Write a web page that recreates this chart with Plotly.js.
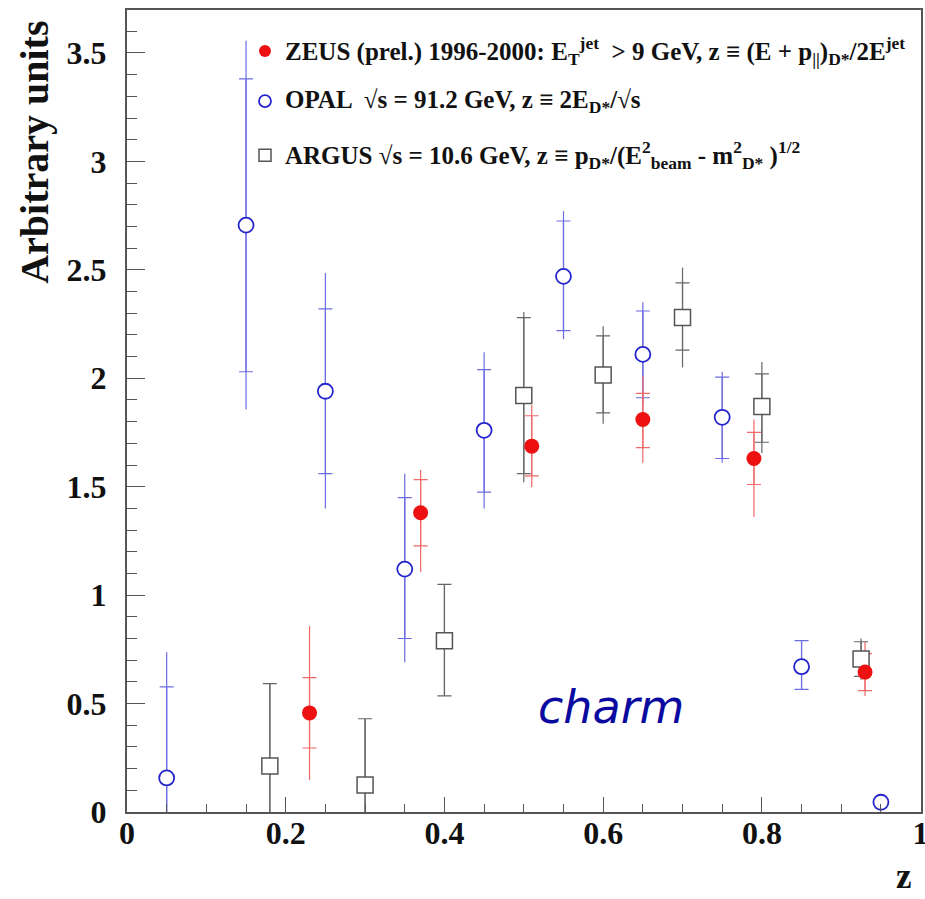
<!DOCTYPE html>
<html>
<head>
<meta charset="utf-8">
<script src="https://cdn.plot.ly/plotly-3.0.1.min.js"></script>
<style>
  html, body { margin: 0; padding: 0; background: #fff; }
  #chart { width: 925px; height: 899px; }
</style>
</head>
<body>
<div id="chart"></div>
<script>
// D* fragmentation function in charm: ZEUS, OPAL and ARGUS measurements

// ZEUS (prel.) 1996-2000
const zeusZ        = [0.23, 0.37, 0.51, 0.65, 0.79, 0.93];
const zeusY        = [0.457, 1.38, 1.687, 1.81, 1.63, 0.645];
const zeusStatUp   = [0.163, 0.153, 0.14, 0.12, 0.12, 0.085];
const zeusStatDown = [0.162, 0.153, 0.137, 0.13, 0.12, 0.085];
const zeusTotUp    = [0.40, 0.197, 0.19, 0.20, 0.18, 0.14];
const zeusTotDown  = [0.31, 0.273, 0.19, 0.20, 0.27, 0.11];

// OPAL, sqrt(s) = 91.2 GeV
const opalZ        = [0.05, 0.15, 0.25, 0.35, 0.45, 0.55, 0.65, 0.75, 0.85, 0.95];
const opalY        = [0.157, 2.706, 1.94, 1.12, 1.76, 2.47, 2.11, 1.82, 0.67, 0.045];
const opalStatUp   = [0.42, 0.674, 0.38, 0.33, 0.28, 0.255, 0.20, 0.185, 0.12, 0.0];
const opalStatDown = [0.42, 0.676, 0.38, 0.32, 0.285, 0.25, 0.20, 0.19, 0.105, 0.0];
const opalTotUp    = [0.58, 0.85, 0.545, 0.44, 0.36, 0.30, 0.24, 0.21, 0.12, 0.0];
const opalTotDown  = [0.58, 0.85, 0.54, 0.43, 0.36, 0.29, 0.24, 0.21, 0.105, 0.0];

// ARGUS, sqrt(s) = 10.6 GeV
const argusZ        = [0.18, 0.30, 0.40, 0.50, 0.60, 0.70, 0.80, 0.925];
const argusY        = [0.212, 0.125, 0.79, 1.92, 2.015, 2.28, 1.87, 0.705];
const argusStatUp   = [0.38, 0.305, 0.26, 0.36, 0.18, 0.16, 0.15, 0.08];
const argusStatDown = [0.38, 0.305, 0.255, 0.36, 0.175, 0.15, 0.165, 0.08];
const argusTotUp    = [0.38, 0.305, 0.26, 0.385, 0.225, 0.23, 0.205, 0.095];
const argusTotDown  = [0.38, 0.305, 0.255, 0.40, 0.225, 0.23, 0.215, 0.095];

// axis ticks
const xTicks = [0, 0.2, 0.4, 0.6, 0.8, 1];
const xTickText = ['0', '0.2', '0.4', '0.6', '0.8', '1'];
const yTicks = [0, 0.5, 1, 1.5, 2, 2.5, 3, 3.5];
const yTickText = ['0', '0.5', '1', '1.5', '2', '2.5', '3', '3.5'];

const legendLines = [
  'ZEUS (prel.) 1996-2000: E<sub>T</sub><sup>jet</sup>  &gt; 9 GeV, z ≡ (E + p<sub>||</sub>)<sub>D*</sub>/2E<sup>jet</sup>',
  'OPAL  √s = 91.2 GeV, z ≡ 2E<sub>D*</sub>/√s',
  'ARGUS √s = 10.6 GeV, z ≡ p<sub>D*</sub>/(E<sup>2</sup><sub>beam</sub> - m<sup>2</sup><sub>D*</sub> )<sup>1/2</sup>'
];

const COL = {
  zeus: '#ee1111', zeusBar: '#f06868',
  opal: '#2424cc', opalBar: '#6c6ce4',
  argus: '#555555', argusBar: '#666666'
};

const hidden = { size: 1, color: 'rgba(0,0,0,0)' };

// error bar trace: total range without caps, statistical range with caps
function errTrace(x, y, up, down, color, cap) {
  return {
    type: 'scatter', mode: 'markers', x: x, y: y, marker: hidden,
    hoverinfo: 'skip', showlegend: false,
    error_y: { type: 'data', symmetric: false, array: up, arrayminus: down,
               color: color, thickness: 1.2, width: cap }
  };
}

const traces = [
  errTrace(argusZ, argusY, argusTotUp, argusTotDown, COL.argusBar, 0),
  errTrace(argusZ, argusY, argusStatUp, argusStatDown, COL.argusBar, 7),
  errTrace(opalZ, opalY, opalTotUp, opalTotDown, COL.opalBar, 0),
  errTrace(opalZ, opalY, opalStatUp, opalStatDown, COL.opalBar, 7),
  errTrace(zeusZ, zeusY, zeusTotUp, zeusTotDown, COL.zeusBar, 0),
  errTrace(zeusZ, zeusY, zeusStatUp, zeusStatDown, COL.zeusBar, 7),
  { type: 'scatter', mode: 'markers', name: 'ARGUS', x: argusZ, y: argusY, showlegend: false,
    marker: { symbol: 'square', size: 16, color: '#ffffff', line: { color: COL.argus, width: 1.5 } } },
  { type: 'scatter', mode: 'markers', name: 'OPAL', x: opalZ, y: opalY, showlegend: false,
    marker: { symbol: 'circle', size: 15, color: '#ffffff', line: { color: COL.opal, width: 1.8 } } },
  { type: 'scatter', mode: 'markers', name: 'ZEUS', x: zeusZ, y: zeusY, showlegend: false,
    marker: { symbol: 'circle', size: 15, color: COL.zeus, line: { width: 0 } } }
];

// legend drawn as text rows with matching symbols
const legY = [0.949, 0.8865, 0.819];
const legX = 0.1738;
const symSize = 6;
const shapes = [
  { type: 'circle', xref: 'paper', yref: 'paper', xsizemode: 'pixel', ysizemode: 'pixel',
    xanchor: legX, yanchor: legY[0], x0: -symSize, x1: symSize, y0: -symSize, y1: symSize,
    fillcolor: COL.zeus, line: { width: 0 } },
  { type: 'circle', xref: 'paper', yref: 'paper', xsizemode: 'pixel', ysizemode: 'pixel',
    xanchor: legX, yanchor: legY[1], x0: -symSize, x1: symSize, y0: -symSize, y1: symSize,
    fillcolor: '#ffffff', line: { color: COL.opal, width: 1.8 } },
  { type: 'rect', xref: 'paper', yref: 'paper', xsizemode: 'pixel', ysizemode: 'pixel',
    xanchor: legX, yanchor: legY[2], x0: -symSize, x1: symSize, y0: -symSize, y1: symSize,
    fillcolor: '#ffffff', line: { color: COL.argus, width: 1.5 } }
];

const serifBold = { family: 'Liberation Serif, Times New Roman, serif', color: '#111', weight: 'bold' };

const annotations = legendLines.map((t, i) => ({
  xref: 'paper', yref: 'paper', x: 0.1965, y: legY[i], xanchor: 'left', yanchor: 'middle',
  text: t, showarrow: false, font: Object.assign({}, serifBold, { size: 25 })
}));

annotations.push({
  xref: 'paper', yref: 'paper', x: -0.116, y: 0.823, textangle: -90,
  xanchor: 'center', yanchor: 'middle', showarrow: false,
  text: 'Arbitrary units', font: Object.assign({}, serifBold, { size: 40 })
});
annotations.push({
  xref: 'paper', yref: 'paper', x: 0.978, y: -0.1072, xanchor: 'center', yanchor: 'bottom',
  showarrow: false, text: 'z', font: Object.assign({}, serifBold, { size: 35 })
});
annotations.push({
  xref: 'paper', yref: 'paper', x: 0.609, y: 0.131, xanchor: 'center', yanchor: 'middle',
  showarrow: false, text: '<i>charm</i>',
  font: { family: 'DejaVu Sans, Verdana, sans-serif', size: 46, color: '#0a0aa0' }
});

const layout = {
  width: 925, height: 899,
  margin: { l: 127, r: 4, t: 10, b: 87, pad: 0 },
  paper_bgcolor: '#ffffff', plot_bgcolor: '#ffffff',
  showlegend: false,
  xaxis: {
    range: [0, 1.0005], tickvals: xTicks, ticktext: xTickText,
    ticks: 'inside', ticklen: 15, tickwidth: 1, tickcolor: '#555',
    minor: { dtick: 0.05, tick0: 0, ticks: 'inside', ticklen: 8, tickwidth: 1, tickcolor: '#555' },
    showgrid: false, zeroline: false,
    showline: true, linecolor: '#555', linewidth: 2, mirror: true,
    tickfont: Object.assign({}, serifBold, { size: 32 }), ticklabelstandoff: -8,
    ticklabeloverflow: 'allow'
  },
  yaxis: {
    range: [0, 3.698], tickvals: yTicks, ticktext: yTickText,
    ticks: 'inside', ticklen: 18, tickwidth: 1, tickcolor: '#555',
    minor: { dtick: 0.1, tick0: 0, ticks: 'inside', ticklen: 10, tickwidth: 1, tickcolor: '#555' },
    showgrid: false, zeroline: false,
    showline: true, linecolor: '#555', linewidth: 2, mirror: true,
    tickfont: Object.assign({}, serifBold, { size: 32 }), ticklabelstandoff: 12
  },
  shapes: shapes,
  annotations: annotations
};

Plotly.newPlot('chart', traces, layout, { staticPlot: true, displayModeBar: false });
</script>
</body>
</html>
